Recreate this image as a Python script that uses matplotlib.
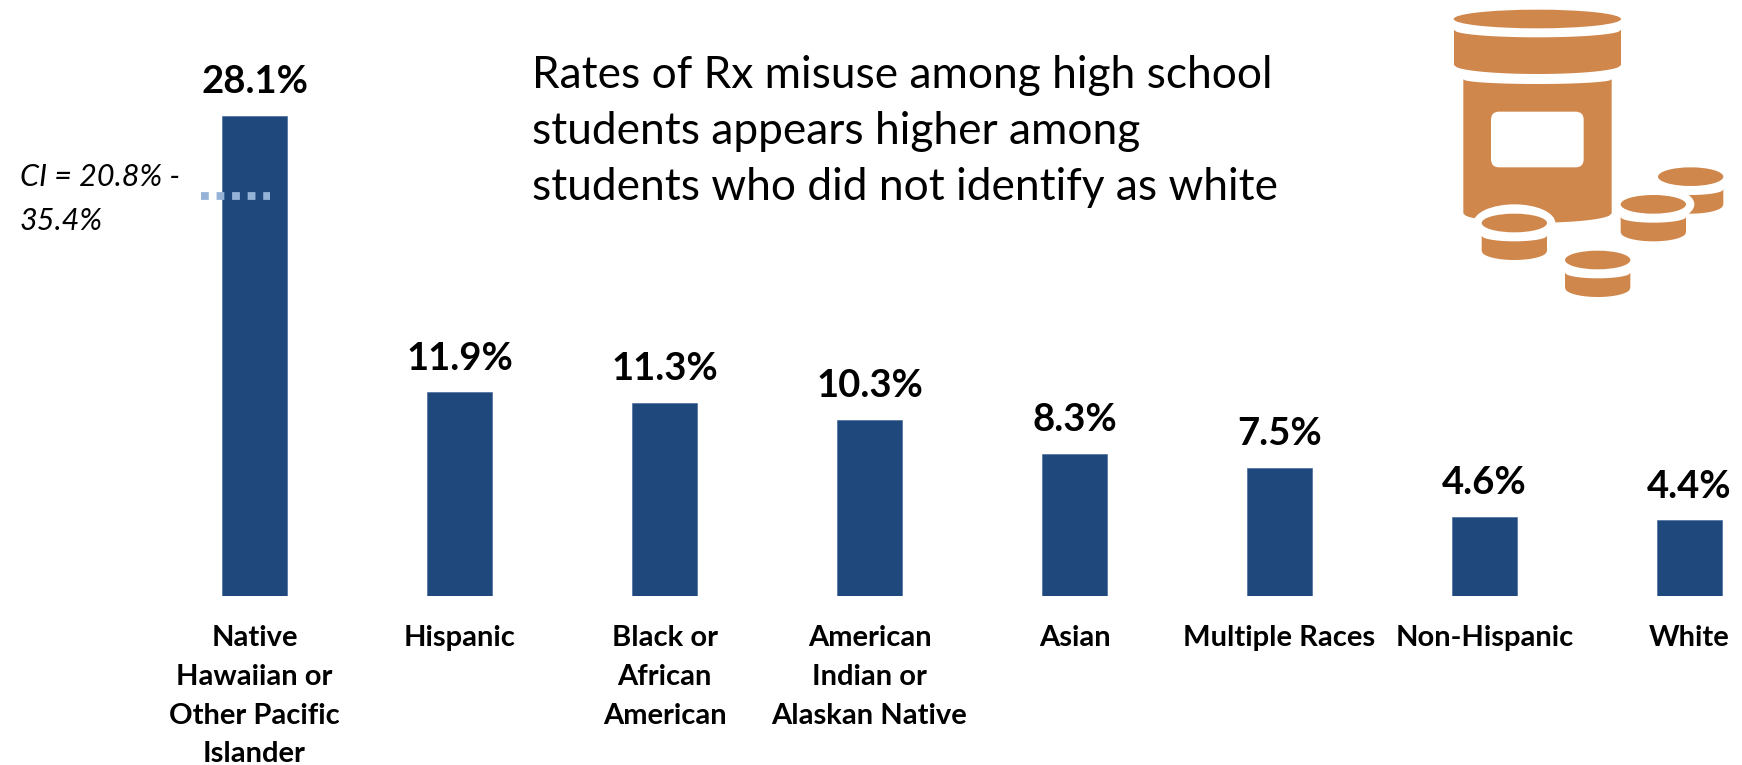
import numpy as np
import matplotlib
matplotlib.use("Agg")
import matplotlib.pyplot as plt
from matplotlib.patches import Ellipse, Polygon, FancyBboxPatch

plt.rcParams["font.family"] = ["Lato", "DejaVu Sans"]

categories = [
    "Native\nHawaiian or\nOther Pacific\nIslander",
    "Hispanic",
    "Black or\nAfrican\nAmerican",
    "American\nIndian or\nAlaskan Native",
    "Asian",
    "Multiple Races",
    "Non-Hispanic",
    "White",
]
values = [28.1, 11.9, 11.3, 10.3, 8.3, 7.5, 4.6, 4.4]
value_labels = ["28.1%", "11.9%", "11.3%", "10.3%", "8.3%", "7.5%", "4.6%", "4.4%"]
headline = "Rates of Rx misuse among high school\nstudents appears higher among\nstudents who did not identify as white"
ci_label = "CI = 20.8% -\n35.4%"

W, H = 1742, 765
BLUE = "#1F497D"
ORANGE = "#D0874C"

fig = plt.figure(figsize=(W / 100, H / 100), dpi=100)

# main axes, bottom edge sits on the bar baseline
base = 595.5
ax = fig.add_axes([0, 1 - base / H, 1, base / H])
ax.set_xlim(-254.5 / 205, (W - 254.5) / 205)
ax.set_ylim(0, base / 17.06)
x = np.arange(len(values))
ax.bar(x, values, width=64.5 / 205, color=BLUE, edgecolor="#3A6296", linewidth=0.4)
for i in x:
    ax.annotate(value_labels[i], (i, values[i]), xytext=(0, 12), textcoords="offset points",
                ha="center", va="bottom", fontsize=27.5, fontweight="bold", color="black")
ax.set_xticks(x)
ax.set_xticklabels(categories, fontsize=21, fontweight="bold", linespacing=1.6)
ax.tick_params(axis="x", length=0, pad=21.5)
ax.set_yticks([])
for s in ax.spines.values():
    s.set_visible(False)
ax.patch.set_alpha(0)

# dotted CI marker on the first bar
ax.plot([-0.262, 0.076], [23.4, 23.4], color="#95B3D7", linewidth=5.6,
        linestyle=(0, (1, 1)), dash_capstyle="butt")

fig.text(20 / W, 1 - 199 / H, ci_label, fontsize=22, style="italic", color="black",
         ha="left", va="center", linespacing=1.71)
fig.text(532 / W, 1 - 131.5 / H, headline, fontsize=31.9, color="black",
         ha="left", va="center", linespacing=1.46)

# pill bottle icon, coordinates follow a 3x crop of the top right corner
icon = fig.add_axes([1400 / W, 1 - 310 / H, 342 / W, 310 / H])
icon.set_xlim(0, 1026)
icon.set_ylim(930, 0)
icon.axis("off")


def band(x0, x1, top, top_mid, bottom, bottom_mid, color=ORANGE):
    # cylinder side: top and bottom edges bow downward
    t = np.linspace(-1, 1, 60)
    xs = (x0 + x1) / 2 + t * (x1 - x0) / 2
    upper = top + (top_mid - top) * np.sqrt(1 - t ** 2)
    lower = bottom + (bottom_mid - bottom) * np.sqrt(1 - t ** 2)
    pts = np.r_[np.c_[xs, upper], np.c_[xs[::-1], lower[::-1]]]
    icon.add_patch(Polygon(pts, closed=True, facecolor=color, edgecolor="none"))


def pill(cx, cy):
    icon.add_patch(Ellipse((cx, cy), 196, 56, facecolor=ORANGE, edgecolor="none"))
    band(cx - 98, cx + 98, cy + 38, cy + 55, cy + 84, cy + 111)


def ring(cx, cy):
    icon.add_patch(Ellipse((cx, cy), 246, 112, facecolor="white", edgecolor="none"))


icon.add_patch(Ellipse((412, 57), 502, 56, facecolor=ORANGE, edgecolor="none"))
band(162, 663, 90, 112, 195, 222)
band(190, 635, 238, 252, 640, 668)
icon.add_patch(FancyBboxPatch((273, 335), 278, 167, boxstyle="round,pad=0,rounding_size=24",
                              facecolor="white", edgecolor="none"))
pill(872, 530)
ring(760, 613)
pill(760, 613)
ring(343, 669)
pill(343, 669)
pill(593, 780)

fig.savefig("out.png", dpi=100)
